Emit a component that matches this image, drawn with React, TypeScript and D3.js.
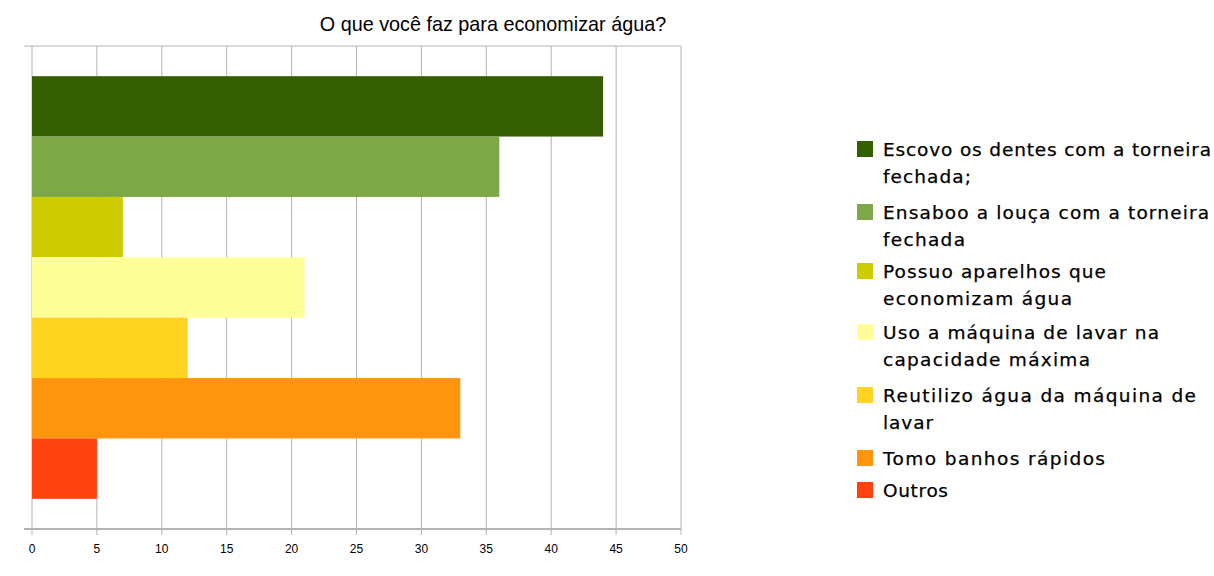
import React from "react";
import * as d3 from "d3";

const categories: string[][] = [
  ["Escovo os dentes com a torneira", "fechada;"],
  ["Ensaboo a louça com a torneira", "fechada"],
  ["Possuo aparelhos que", "economizam água"],
  ["Uso a máquina de lavar na", "capacidade máxima"],
  ["Reutilizo água da máquina de", "lavar"],
  ["Tomo banhos rápidos"],
  ["Outros"],
];
const values: number[] = [44, 36, 7, 21, 12, 33, 5];
const colors: string[] = ["#355e00", "#7ea848", "#cccc00", "#ffff99", "#ffd320", "#ff950e", "#ff420e"];
const xTicks: number[] = [0, 5, 10, 15, 20, 25, 30, 35, 40, 45, 50];
const title = "O que você faz para economizar água?";

// layout: rendered widths of the legend lines in the reference (px)
const legendLineWidths: number[][] = [
  [328, 88],
  [326, 82],
  [223, 189],
  [276, 207],
  [313, 50],
  [222],
  [65],
];

const W = 1214;
const H = 576;
const plot = { left: 32, right: 681, top: 46, bottom: 529 };

export default function App() {
  const x = d3.scaleLinear().domain([0, 50]).range([plot.left, plot.right]);
  const y = d3
    .scaleBand<number>()
    .domain(values.map((_, i) => i))
    .range([plot.top, plot.bottom])
    .paddingInner(0)
    .paddingOuter(0.5);

  const legendX = 857;
  const legendTops = [150, 213, 272, 333, 396, 459, 491];
  const lineH = 27;

  return (
    <svg
      width={W}
      height={H}
      style={{ position: "absolute", left: 0, top: 0, background: "#fff" }}
    >
      <rect x={0} y={0} width={W} height={H} fill="#ffffff" />
      <text
        x={493}
        y={31}
        textAnchor="middle"
        fontFamily="Liberation Sans, Arial, sans-serif"
        fontSize={19.8}
        fill="#000"
      >
        {title}
      </text>
      {/* grid */}
      {xTicks.map((t) => (
        <line
          key={"g" + t}
          x1={x(t)}
          x2={x(t)}
          y1={plot.top}
          y2={plot.bottom + 6}
          stroke="#b3b3b3"
          strokeWidth={1}
        />
      ))}
      <line x1={plot.left - 8} x2={plot.right} y1={plot.top} y2={plot.top} stroke="#b3b3b3" strokeWidth={1} />
      {/* bars */}
      {values.map((v, i) => (
        <rect
          key={"b" + i}
          x={x(0)}
          y={y(i)!}
          width={x(v) - x(0)}
          height={y.bandwidth()}
          fill={colors[i]}
        />
      ))}
      {/* axis */}
      <line x1={plot.left - 8} x2={plot.right} y1={plot.bottom} y2={plot.bottom} stroke="#b3b3b3" strokeWidth={2} />
      {xTicks.map((t) => (
        <text
          key={"t" + t}
          x={x(t)}
          y={553}
          textAnchor="middle"
          fontFamily="Liberation Sans Narrow, Liberation Sans, Arial, sans-serif"
          fontSize={12}
          fill="#000"
        >
          {t}
        </text>
      ))}
      {/* legend */}
      {categories.map((lines, i) => (
        <g key={"l" + i}>
          <rect x={legendX} y={legendTops[i] - 9} width={16} height={16} fill={colors[i]} />
          {lines.map((ln, j) => (
            <text
              key={j}
              x={883}
              y={legendTops[i] + 6 + j * lineH}
              fontFamily="DejaVu Sans, Verdana, sans-serif"
              fontSize={18.5}
              textLength={legendLineWidths[i][j]}
              lengthAdjust="spacing"
              fill="#000"
              stroke="#000"
              strokeWidth={0.25}
            >
              {ln}
            </text>
          ))}
        </g>
      ))}
    </svg>
  );
}
